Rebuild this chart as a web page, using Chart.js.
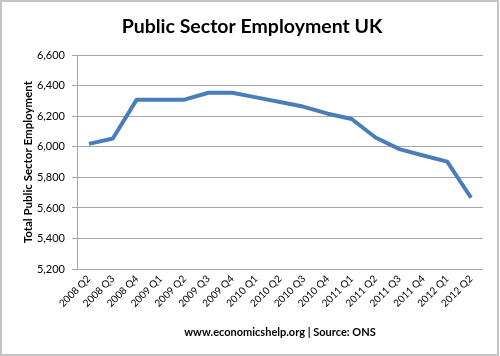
<!DOCTYPE html>
<html>
<head>
<meta charset="utf-8">
<script src="https://cdn.jsdelivr.net/npm/chart.js@4/dist/chart.umd.min.js"></script>
<style>
html,body{margin:0;padding:0;background:#fff;}
#wrap{width:500px;height:356px;position:relative;}
</style>
</head>
<body>
<div id="wrap"><canvas id="c" width="500" height="356"></canvas></div>
<script>
const categories = ["2008 Q2","2008 Q3","2008 Q4","2009 Q1","2009 Q2","2009 Q3","2009 Q4","2010 Q1","2010 Q2","2010 Q3","2010 Q4","2011 Q1","2011 Q2","2011 Q3","2011 Q4","2012 Q1","2012 Q2"];
const employment = [6020,6055,6310,6310,6310,6355,6355,6325,6295,6263,6218,6183,6062,5986,5944,5904,5667];
const yMin = 5200, yMax = 6600, yStep = 200;
const titleText = "Public Sector Employment UK";
const yTitle = "Total Public Sector Employment";
const footerText = "www.economicshelp.org | Source: ONS";

const FONT = "Lato, 'Open Sans', sans-serif";
const GRID = "#a6a6a6";

const borderPlugin = {
  id: 'outerBorder',
  afterDraw(chart) {
    const ctx = chart.ctx;
    ctx.save();
    ctx.strokeStyle = '#c4c4c4';
    ctx.lineWidth = 2;
    ctx.strokeRect(1, 1, chart.width - 3, chart.height - 2);
    ctx.restore();
  }
};

new Chart(document.getElementById('c'), {
  type: 'line',
  data: {
    labels: categories,
    datasets: [{
      data: employment,
      borderColor: '#4a7ebb',
      borderWidth: 4,
      pointRadius: 0,
      tension: 0,
      fill: false,
      borderJoinStyle: 'round'
    }]
  },
  options: {
    responsive: false,
    animation: false,
    devicePixelRatio: 1,
    layout: { padding: { left: 21, right: 17, top: 0, bottom: 0 } },
    plugins: {
      legend: { display: false },
      tooltip: { enabled: false },
      title: {
        display: true,
        text: titleText,
        color: '#000',
        font: { family: FONT, size: 19.5, weight: 'bold' },
        padding: { top: 15, bottom: 17 }
      }
    },
    scales: {
      x: {
        type: 'category',
        offset: true,
        grid: { display: false, drawTicks: false },
        border: { display: false },
        ticks: {
          color: '#000',
          font: { family: FONT, size: 10 },
          minRotation: 45,
          maxRotation: 45,
          autoSkip: false,
          padding: 4
        },
        title: {
          display: true,
          text: footerText,
          color: '#000',
          font: { family: FONT, size: 11, weight: 'bold' },
          padding: { top: 4, bottom: 17 }
        },
        afterFit(scale) { scale.height = 87; }
      },
      y: {
        min: yMin,
        max: yMax,
        grid: { color: GRID, lineWidth: 1, drawTicks: true, tickLength: 5, tickColor: GRID },
        border: { display: true, color: GRID, width: 1 },
        ticks: {
          stepSize: yStep,
          color: '#000',
          font: { family: FONT, size: 11 },
          padding: 7,
          callback: (v) => v.toLocaleString('en-US')
        },
        title: {
          display: true,
          text: yTitle,
          color: '#000',
          font: { family: FONT, size: 11.5, weight: 'bold' },
          padding: { top: 0, bottom: 4 }
        },
        afterFit(scale) { scale.width = 56; }
      }
    }
  },
  plugins: [borderPlugin]
});
</script>
</body>
</html>
